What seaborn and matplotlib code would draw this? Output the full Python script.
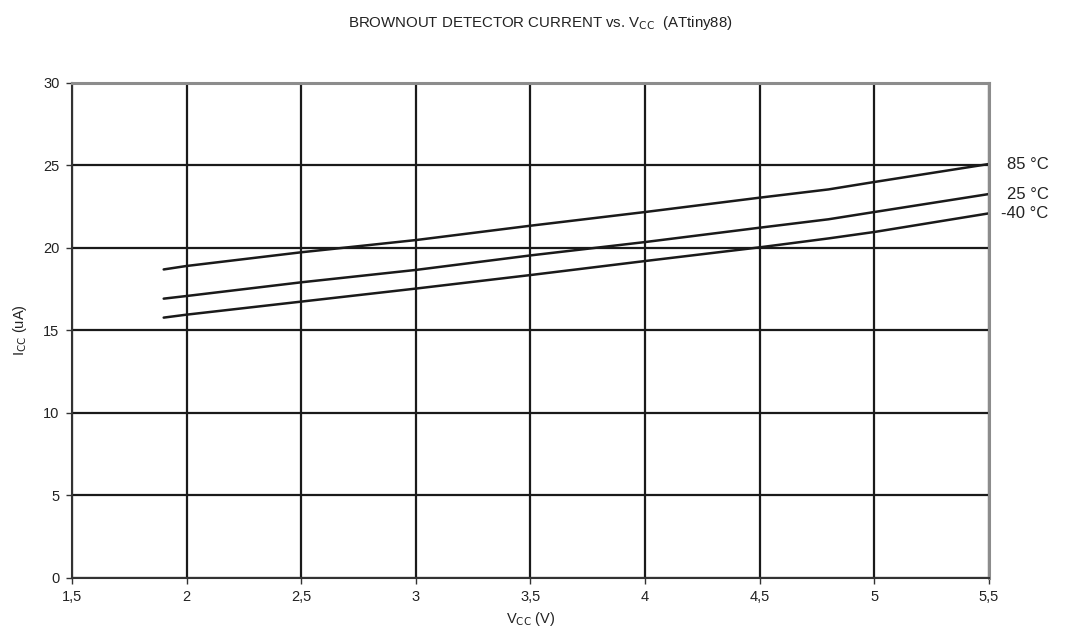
import pandas as pd
import numpy as np
import matplotlib
matplotlib.use('Agg')
import matplotlib.pyplot as plt
import matplotlib.transforms as mtransforms
import seaborn as sns

# Data
vcc = [1.9, 2.0, 2.5, 3.0, 3.5, 4.0, 4.5, 4.8, 5.0, 5.5]
icc_85 = [18.7, 18.91, 19.74, 20.48, 21.35, 22.18, 23.05, 23.55, 24.0, 25.09]
icc_25 = [16.93, 17.09, 17.92, 18.67, 19.55, 20.36, 21.23, 21.74, 22.18, 23.27]
icc_m40 = [15.78, 15.96, 16.75, 17.54, 18.36, 19.21, 20.04, 20.58, 20.97, 22.1]
temps = ['85 °C', '25 °C', '-40 °C']

df = pd.DataFrame({
    'vcc': vcc * 3,
    'icc': icc_85 + icc_25 + icc_m40,
    'temp': [temps[0]] * len(vcc) + [temps[1]] * len(vcc) + [temps[2]] * len(vcc),
})

sns.set_style('white')
plt.rcParams['font.family'] = ['Liberation Sans', 'DejaVu Sans']

fig = plt.figure(figsize=(10.65, 6.33), dpi=100)
ax = fig.add_axes([0.0676, 0.0869, 0.861, 0.782])

sns.lineplot(data=df, x='vcc', y='icc', hue='temp', hue_order=temps,
             palette=['#1a1a1a'] * 3, linewidth=1.8, legend=False, ax=ax)

ax.set_xlim(1.5, 5.5)
ax.set_ylim(0, 30)
xt = np.arange(1.5, 5.51, 0.5)
ax.set_xticks(xt)
ax.set_xticklabels([f'{v:g}'.replace('.', ',') for v in xt], fontsize=10.5, color='#222222')
ax.set_yticks(range(0, 31, 5))
ax.set_yticklabels([str(v) for v in range(0, 31, 5)], fontsize=10.5, color='#222222')
ax.grid(True, color='#1a1a1a', linewidth=1.6)
ax.set_axisbelow(True)
ax.tick_params(axis='both', direction='out', length=4, width=1, color='#333333',
               bottom=True, left=True, pad=5)

for side in ['left', 'bottom']:
    ax.spines[side].set_color('#333333')
    ax.spines[side].set_linewidth(1.5)
for side in ['top', 'right']:
    ax.spines[side].set_color('#8c8c8c')
    ax.spines[side].set_linewidth(2.2)

ax.set_xlabel('V$_{\\mathrm{CC}}$ (V)', fontsize=10.5, color='#222222', labelpad=4)
ax.set_ylabel('I$_{\\mathrm{CC}}$ (uA)', fontsize=10.5, color='#222222', labelpad=10)

# curve labels at the right end
trans = mtransforms.blended_transform_factory(ax.transAxes, ax.transData)
ends = [icc_85[-1], icc_25[-1], icc_m40[-1]]
for label, yv in zip(temps, ends):
    ax.text(1.065, yv, label, transform=trans, ha='right', va='center',
            fontsize=12, color='#222222')

fig.text(0.507, 0.978, 'BROWNOUT DETECTOR CURRENT vs. V$_{\\mathrm{CC}}$  (ATtiny88)',
         ha='center', va='top', fontsize=10.8, color='#222222')

fig.savefig('out.png', dpi=100)
